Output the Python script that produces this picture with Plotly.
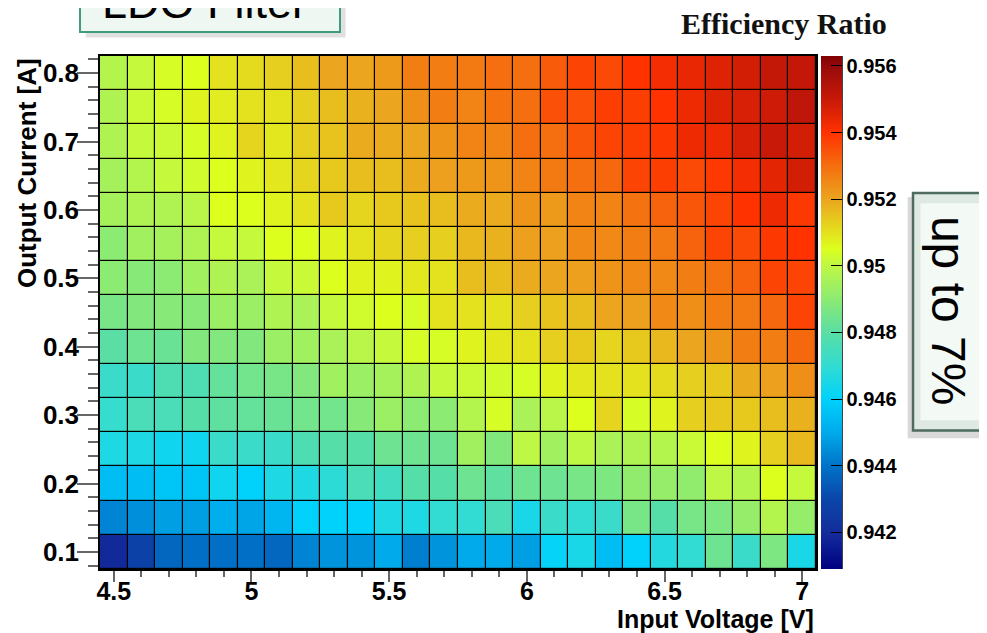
import plotly.graph_objects as go

# ---- data ----
voltages = [4.5, 4.6, 4.7, 4.8, 4.9, 5.0, 5.1, 5.2, 5.3, 5.4, 5.5, 5.6, 5.7,
            5.8, 5.9, 6.0, 6.1, 6.2, 6.3, 6.4, 6.5, 6.6, 6.7, 6.8, 6.9, 7.0]
currents = [0.80, 0.75, 0.70, 0.65, 0.60, 0.55, 0.50, 0.45,
            0.40, 0.35, 0.30, 0.25, 0.20, 0.15, 0.10]

eff_080 = [0.9498, 0.9501, 0.9504, 0.9505, 0.9510, 0.9511, 0.9513, 0.9516, 0.9520, 0.9520, 0.9522, 0.9527, 0.9527,
           0.9528, 0.9530, 0.9530, 0.9533, 0.9537, 0.9536, 0.9540, 0.9542, 0.9544, 0.9546, 0.9548, 0.9551, 0.9551]
eff_075 = [0.9497, 0.9502, 0.9504, 0.9507, 0.9508, 0.9510, 0.9510, 0.9513, 0.9516, 0.9518, 0.9520, 0.9524, 0.9527,
           0.9526, 0.9529, 0.9530, 0.9535, 0.9535, 0.9538, 0.9538, 0.9540, 0.9543, 0.9546, 0.9547, 0.9549, 0.9552]
eff_070 = [0.9497, 0.9501, 0.9502, 0.9504, 0.9507, 0.9512, 0.9509, 0.9513, 0.9515, 0.9519, 0.9519, 0.9520, 0.9523,
           0.9526, 0.9526, 0.9530, 0.9530, 0.9534, 0.9537, 0.9538, 0.9539, 0.9543, 0.9543, 0.9547, 0.9550, 0.9548]
eff_065 = [0.9495, 0.9498, 0.9501, 0.9503, 0.9505, 0.9507, 0.9509, 0.9512, 0.9514, 0.9516, 0.9516, 0.9519, 0.9521,
           0.9522, 0.9523, 0.9526, 0.9528, 0.9530, 0.9531, 0.9537, 0.9538, 0.9536, 0.9539, 0.9542, 0.9545, 0.9548]
eff_060 = [0.9495, 0.9497, 0.9497, 0.9499, 0.9505, 0.9505, 0.9507, 0.9510, 0.9514, 0.9512, 0.9514, 0.9515, 0.9516,
           0.9519, 0.9519, 0.9523, 0.9522, 0.9526, 0.9526, 0.9529, 0.9532, 0.9534, 0.9537, 0.9540, 0.9543, 0.9539]
eff_055 = [0.9490, 0.9494, 0.9495, 0.9497, 0.9501, 0.9501, 0.9505, 0.9505, 0.9507, 0.9510, 0.9512, 0.9513, 0.9513,
           0.9517, 0.9518, 0.9521, 0.9521, 0.9525, 0.9525, 0.9527, 0.9528, 0.9532, 0.9537, 0.9536, 0.9539, 0.9540]
eff_050 = [0.9490, 0.9489, 0.9490, 0.9494, 0.9497, 0.9496, 0.9501, 0.9502, 0.9505, 0.9507, 0.9507, 0.9509, 0.9510,
           0.9516, 0.9516, 0.9519, 0.9520, 0.9521, 0.9523, 0.9525, 0.9525, 0.9527, 0.9529, 0.9532, 0.9537, 0.9537]
eff_045 = [0.9486, 0.9488, 0.9489, 0.9489, 0.9493, 0.9493, 0.9497, 0.9496, 0.9501, 0.9503, 0.9505, 0.9504, 0.9510,
           0.9510, 0.9510, 0.9513, 0.9515, 0.9516, 0.9520, 0.9521, 0.9525, 0.9524, 0.9527, 0.9528, 0.9531, 0.9537]
eff_040 = [0.9480, 0.9484, 0.9483, 0.9488, 0.9488, 0.9488, 0.9493, 0.9494, 0.9496, 0.9499, 0.9501, 0.9504, 0.9504,
           0.9507, 0.9509, 0.9510, 0.9513, 0.9514, 0.9512, 0.9514, 0.9517, 0.9520, 0.9523, 0.9527, 0.9527, 0.9531]
eff_035 = [0.9472, 0.9472, 0.9477, 0.9477, 0.9482, 0.9485, 0.9486, 0.9488, 0.9494, 0.9493, 0.9495, 0.9497, 0.9501,
           0.9502, 0.9503, 0.9504, 0.9507, 0.9509, 0.9510, 0.9510, 0.9511, 0.9513, 0.9514, 0.9519, 0.9521, 0.9524]
eff_030 = [0.9471, 0.9476, 0.9476, 0.9479, 0.9481, 0.9482, 0.9483, 0.9485, 0.9485, 0.9489, 0.9493, 0.9490, 0.9490,
           0.9498, 0.9504, 0.9496, 0.9499, 0.9505, 0.9512, 0.9504, 0.9507, 0.9513, 0.9514, 0.9514, 0.9516, 0.9518]
eff_025 = [0.9466, 0.9466, 0.9463, 0.9463, 0.9472, 0.9472, 0.9472, 0.9477, 0.9479, 0.9479, 0.9484, 0.9484, 0.9484,
           0.9494, 0.9488, 0.9500, 0.9494, 0.9500, 0.9496, 0.9497, 0.9498, 0.9502, 0.9505, 0.9507, 0.9513, 0.9517]
eff_020 = [0.9455, 0.9455, 0.9457, 0.9457, 0.9463, 0.9460, 0.9466, 0.9466, 0.9469, 0.9476, 0.9474, 0.9479, 0.9479,
           0.9484, 0.9481, 0.9484, 0.9484, 0.9486, 0.9487, 0.9491, 0.9492, 0.9491, 0.9500, 0.9498, 0.9505, 0.9501]
eff_015 = [0.9443, 0.9445, 0.9448, 0.9448, 0.9451, 0.9449, 0.9453, 0.9460, 0.9460, 0.9460, 0.9466, 0.9466, 0.9470,
           0.9470, 0.9476, 0.9465, 0.9472, 0.9470, 0.9472, 0.9486, 0.9479, 0.9486, 0.9487, 0.9492, 0.9498, 0.9492]
eff_010 = [0.9419, 0.9428, 0.9437, 0.9439, 0.9439, 0.9439, 0.9437, 0.9443, 0.9446, 0.9446, 0.9450, 0.9442, 0.9446,
           0.9450, 0.9450, 0.9448, 0.9461, 0.9465, 0.9455, 0.9460, 0.9467, 0.9470, 0.9484, 0.9472, 0.9487, 0.9465]

efficiency = [eff_080, eff_075, eff_070, eff_065, eff_060, eff_055, eff_050, eff_045,
              eff_040, eff_035, eff_030, eff_025, eff_020, eff_015, eff_010]

x_ticks = [4.5, 5.0, 5.5, 6.0, 6.5, 7.0]
x_ticktext = ["4.5", "5", "5.5", "6", "6.5", "7"]
y_ticks = [0.1, 0.2, 0.3, 0.4, 0.5, 0.6, 0.7, 0.8]
y_ticktext = ["0.1", "0.2", "0.3", "0.4", "0.5", "0.6", "0.7", "0.8"]
z_ticks = [0.942, 0.944, 0.946, 0.948, 0.950, 0.952, 0.954, 0.956]
z_ticktext = ["0.942", "0.944", "0.946", "0.948", "0.95", "0.952", "0.954", "0.956"]

zmin, zmax = 0.9409, 0.9563
palette = [
    (0.9409, "rgb(0,0,128)"),
    (0.9415, "rgb(10,25,145)"),
    (0.9420, "rgb(20,45,155)"),
    (0.9430, "rgb(10,70,170)"),
    (0.9440, "rgb(0,115,200)"),
    (0.9450, "rgb(0,170,235)"),
    (0.9460, "rgb(0,210,252)"),
    (0.9470, "rgb(50,220,210)"),
    (0.9480, "rgb(90,222,165)"),
    (0.9490, "rgb(140,235,115)"),
    (0.9500, "rgb(190,247,68)"),
    (0.9505, "rgb(220,255,30)"),
    (0.9510, "rgb(228,225,30)"),
    (0.9520, "rgb(235,165,30)"),
    (0.9530, "rgb(245,110,15)"),
    (0.9540, "rgb(255,50,0)"),
    (0.9550, "rgb(200,25,8)"),
    (0.9560, "rgb(150,10,10)"),
    (0.9563, "rgb(128,0,0)"),
]
colorscale = [[(v - zmin) / (zmax - zmin), c] for v, c in palette]

FONT = "Liberation Sans, Arial, Helvetica, sans-serif"

fig = go.Figure()
fig.add_trace(go.Heatmap(
    x=voltages, y=currents, z=efficiency,
    zmin=zmin, zmax=zmax, colorscale=colorscale,
    xgap=1.2, ygap=1.2,
    colorbar=dict(
        x=1.007, xanchor="left", xpad=0,
        y=0, yanchor="bottom", len=1, lenmode="fraction", ypad=0,
        thickness=21, outlinewidth=0,
        tickvals=z_ticks, ticktext=z_ticktext,
        ticks="inside", ticklen=11, tickcolor="black", tickwidth=1.2,
        tickfont=dict(family=FONT, size=20, color="black", weight="bold"),
    ),
))

fig.update_xaxes(
    range=[4.45, 7.05], tickvals=x_ticks, ticktext=x_ticktext,
    ticks="outside", ticklen=11, tickcolor="#666", tickwidth=1.5,
    minor=dict(dtick=0.1, tick0=4.5, ticks="outside", ticklen=6, tickcolor="#666", tickwidth=1.5),
    showline=True, linecolor="black", linewidth=1.5, mirror=True,
    showgrid=False, zeroline=False, ticklabelstandoff=-12,
    tickfont=dict(family=FONT, size=25, color="black", weight="bold"),
)
fig.update_yaxes(
    range=[0.075, 0.825], tickvals=y_ticks, ticktext=y_ticktext,
    ticks="outside", ticklen=21, tickcolor="#666", tickwidth=1.5,
    minor=dict(dtick=0.02, tick0=0, ticks="outside", ticklen=10, tickcolor="#666", tickwidth=1.5),
    showline=True, linecolor="black", linewidth=1.5, mirror=True,
    showgrid=False, zeroline=False, ticklabelstandoff=-7,
    tickfont=dict(family=FONT, size=26, color="black", weight="bold"),
)

shapes = [
    # colorbar right edge line
    dict(type="line", xref="paper", yref="paper", x0=1.0363, x1=1.0363, y0=0, y1=1,
         line=dict(color="black", width=1.5)),
    # LDO Filter box shadow + box
    dict(type="rect", xref="paper", yref="paper", x0=-0.020, x1=0.343, y0=1.036, y1=1.16,
         fillcolor="rgba(0,0,0,0.12)", line=dict(width=0), layer="above"),
    dict(type="rect", xref="paper", yref="paper", x0=-0.0279, x1=0.3352, y0=1.0468, y1=1.16,
         fillcolor="#eef7f2", line=dict(color="#3f9c7c", width=2), layer="above"),
    # up to 7% box shadow + box
    dict(type="rect", xref="paper", yref="paper", x0=1.128, x1=1.3, y0=0.255, y1=0.725,
         fillcolor="rgba(0,0,0,0.15)", line=dict(width=0), layer="above"),
    dict(type="rect", xref="paper", yref="paper", x0=1.1355, x1=1.3, y0=0.270, y1=0.733,
         fillcolor="#dfe9e3", line=dict(color="#4d6b5e", width=2.5), layer="above"),
    dict(type="rect", xref="paper", yref="paper", x0=1.146, x1=1.3, y0=0.290, y1=0.713,
         fillcolor="#f3faf6", line=dict(width=0), layer="above"),
]

annotations = [
    dict(text="Efficiency Ratio", xref="paper", yref="paper", x=0.9553, y=1.0624,
         xanchor="center", yanchor="middle", showarrow=False,
         font=dict(family="Liberation Serif, Times New Roman, serif", size=30, color="#111", weight="bold")),
    dict(text="LDO Filter", xref="paper", yref="paper", x=0.1466, y=1.105,
         xanchor="center", yanchor="middle", showarrow=False,
         font=dict(family=FONT, size=45, color="black")),
    dict(text="up to 7%", xref="paper", yref="paper", x=1.1844, y=0.505,
         xanchor="center", yanchor="middle", showarrow=False, textangle=90,
         font=dict(family=FONT, size=48, color="black")),
    dict(text="Input Voltage [V]", xref="paper", yref="paper", x=1.0, y=0,
         xanchor="right", yanchor="top", yshift=-34, showarrow=False,
         font=dict(family=FONT, size=25, color="black", weight="bold")),
    dict(text="Output Current [A]", xref="paper", yref="paper", x=0, y=1.0,
         xanchor="right", yanchor="top", xshift=-56, showarrow=False, textangle=-90,
         font=dict(family=FONT, size=26, color="black", weight="bold")),
]

fig.update_layout(
    width=987, height=633,
    margin=dict(l=92, r=179, t=48, b=72),
    paper_bgcolor="white", plot_bgcolor="black",
    shapes=shapes, annotations=annotations,
    showlegend=False,
)

fig.write_html("out.html")
